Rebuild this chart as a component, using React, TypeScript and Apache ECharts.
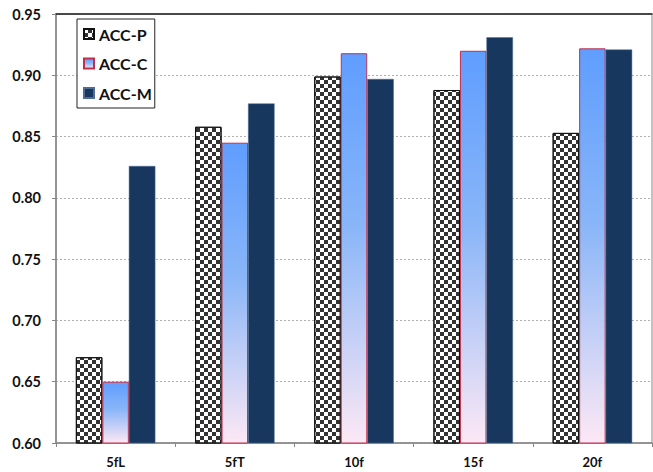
import React, { useEffect, useRef } from "react";
import * as echarts from "echarts";

const categories = ["5fL", "5fT", "10f", "15f", "20f"];
const accP = [0.670, 0.858, 0.899, 0.888, 0.853];
const accC = [0.650, 0.845, 0.918, 0.920, 0.922];
const accM = [0.826, 0.877, 0.897, 0.931, 0.921];
const yTicks = { min: 0.6, max: 0.95, interval: 0.05 };

export default function App() {
  const ref = useRef<HTMLDivElement>(null);
  useEffect(() => {
    if (!ref.current) return;
    const chart = echarts.init(ref.current, undefined, { renderer: "svg" });
    const font = "Lato, 'Open Sans', sans-serif";
    chart.setOption({
      animation: false,
      backgroundColor: "#fff",
      grid: { left: 56, right: 1, top: 14, bottom: 29, show: true, borderColor: "#868686", borderWidth: 1 },
      legend: {
        orient: "vertical",
        left: 77,
        top: 19,
        padding: [7, 3, 7, 6],
        itemGap: 13.5,
        itemWidth: 10,
        itemHeight: 10,
        borderColor: "#222",
        borderWidth: 1,
        backgroundColor: "#fff",
        icon: "rect",
        textStyle: { fontFamily: font, fontWeight: "bold", fontSize: 16, color: "#111", lineHeight: 16 },
        data: ["ACC-P", "ACC-C", "ACC-M"],
      },
      xAxis: [
        {
          type: "category",
          data: categories,
          axisLine: { lineStyle: { color: "#868686", width: 1.5 } },
          axisTick: { show: true, length: 4, lineStyle: { color: "#868686" } },
          axisLabel: { fontFamily: font, fontWeight: "bold", fontSize: 13, color: "#111", margin: 12 },
        },
        {
          type: "category",
          position: "top",
          data: categories,
          axisLine: { show: true, lineStyle: { color: "#222", width: 1.5 } },
          axisTick: { show: false },
          axisLabel: { show: false },
        },
      ],
      yAxis: {
        type: "value",
        min: yTicks.min,
        max: yTicks.max,
        interval: yTicks.interval,
        axisLine: { show: true, lineStyle: { color: "#868686", width: 1.5 } },
        axisTick: { show: true, length: 4, lineStyle: { color: "#868686" } },
        axisLabel: {
          fontFamily: font,
          fontWeight: "bold",
          fontSize: 14.5,
          color: "#111",
          margin: 15,
          formatter: (v: number) => v.toFixed(2),
        },
        splitLine: { show: true, lineStyle: { color: "#b0b0b0", type: [2, 2], width: 1 } },
      },
      series: [
        {
          name: "ACC-P",
          type: "bar",
          data: accP,
          barWidth: 26.5,
          barGap: "0%",
          itemStyle: {
            color: "#ffffff",
            borderColor: "#111",
            borderWidth: 1,
            decal: {
              symbol: "rect",
              symbolSize: 1,
              color: "#333333",
              dashArrayX: [[4, 4], [0, 4, 4, 0]],
              dashArrayY: [4, 0],
              rotation: 0,
            },
          },
        },
        {
          name: "ACC-C",
          type: "bar",
          data: accC,
          barWidth: 26.5,
          barGap: "0%",
          itemStyle: {
            color: new echarts.graphic.LinearGradient(0, 0, 0, 1, [
              { offset: 0, color: "#5f9dff" },
              { offset: 0.45, color: "#8ab6f8" },
              { offset: 1, color: "#fde8f5" },
            ]),
            borderColor: "#c0304d",
            borderWidth: 1,
          },
        },
        {
          name: "ACC-M",
          type: "bar",
          data: accM,
          barWidth: 26.5,
          barGap: "0%",
          itemStyle: { color: "#17375e", borderColor: "#4f6d93", borderWidth: 0.5 },
        },
      ],
    });
    return () => chart.dispose();
  }, []);
  return <div ref={ref} style={{ width: 653, height: 472, position: "absolute", left: 0, top: 0 }} />;
}
